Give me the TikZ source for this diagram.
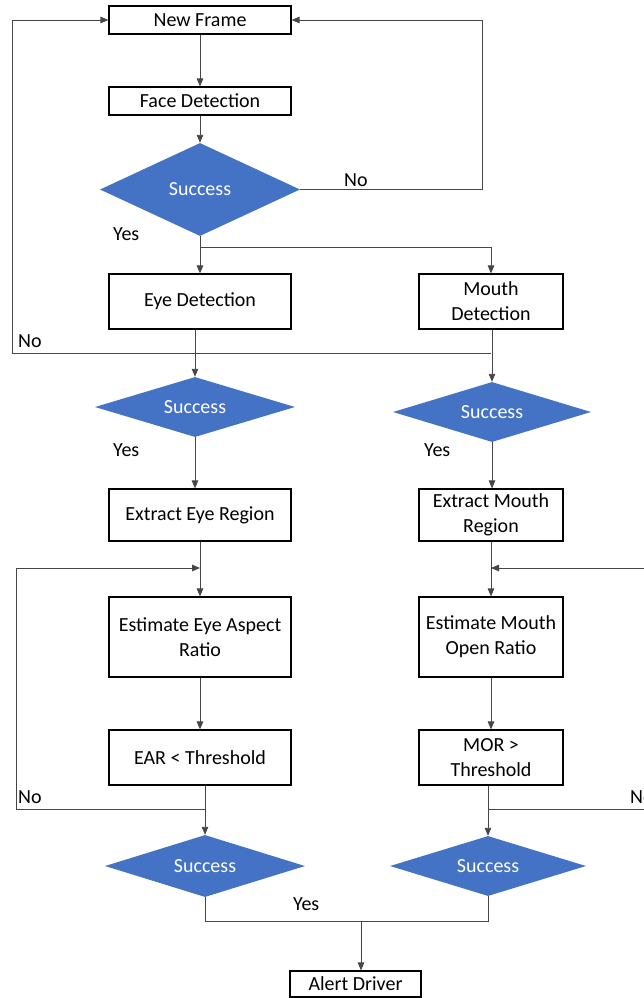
\documentclass[tikz,border=0pt]{standalone}
\usepackage{fontspec}
\setmainfont{Carlito}
\usepackage{tikz}
\usetikzlibrary{shapes.geometric}
\usetikzlibrary{arrows.meta}
\definecolor{officeblue}{RGB}{68,114,196}
\definecolor{linegray}{RGB}{70,70,70}
\tikzset {
  x=1pt, y=-1pt,
  % process boxes
  box/.style = {draw, line width=1.1pt, rectangle, inner sep=0pt, align=center,
    minimum width=182pt},
  narrow/.style = {minimum width=144pt},
  % decision diamonds
  decision/.style = {diamond, fill=officeblue, text=white, inner sep=0pt, aspect=2},
  % connectors
  flow/.style = {draw=linegray, line width=0.9pt, -{Triangle[length=8pt, width=6.5pt]}},
  plain/.style = {draw=linegray, line width=0.9pt},
  lbl/.style = {inner sep=0pt, anchor=west},
}

\begin{document}
\begin{tikzpicture}[font=\fontsize{20}{25}\selectfont]
        \useasboundingbox (0,0) rectangle (644,998);
        \clip (0,0) rectangle (644,998);

        \node[box, minimum height=28pt] (newframe) at (200,20) {New Frame};
        \node[box, minimum height=28pt] (facedet) at (200,101) {Face Detection};
        \node[decision, minimum width=200pt, minimum height=93pt] (succ1) at (200,189.5) {Success};

        \node[box, minimum height=55pt] (eyedet) at (200,301.5) {Eye Detection};
        \node[box, narrow, minimum height=55pt] (mouthdet) at (491,301.5) {Mouth\\Detection};

        \node[decision, minimum width=200pt, minimum height=60pt] (succeye) at (195,407) {Success};
        \node[decision, minimum width=198pt, minimum height=60pt] (succmouth) at (492,412) {Success};

        \node[box, minimum height=52pt] (extreye) at (200,515) {Extract Eye Region};
        \node[box, narrow, minimum height=52pt] (extrmouth) at (491,515) {Extract Mouth\\Region};

        \node[box, minimum height=80pt] (esteye) at (200,637) {Estimate Eye Aspect\\Ratio};
        \node[box, narrow, minimum height=80pt] (estmouth) at (491,637) {Estimate Mouth\\Open Ratio};

        \node[box, minimum height=55pt] (eyethr) at (200,757.5) {EAR {\textless} Threshold};
        \node[box, narrow, minimum height=55pt] (mouththr) at (491,757.5) {MOR {\textgreater}\\Threshold};

        \node[decision, minimum width=200pt, minimum height=62pt] (succ3) at (205,866) {Success};
        \node[decision, minimum width=196pt, minimum height=60pt] (succ4) at (488,866) {Success};

        \node[box, minimum width=131pt, minimum height=26pt] (alert) at (355.5,984) {Alert Driver};

        % bend points
        \coordinate (nocorner) at (482,189.5);
        \coordinate (yessplit) at (200,247);
        \coordinate (noright) at (491,353);
        \coordinate (noleft) at (12,353);
        \coordinate (eyeloopa) at (205,809);
        \coordinate (eyeloopb) at (16,809);
        \coordinate (eyeloopc) at (200,568);
        \coordinate (mouthloopa) at (488,809);
        \coordinate (mouthloopb) at (670,809);
        \coordinate (mouthloopc) at (670,568);
        \coordinate (mouthloopd) at (491,568);
        \coordinate (yesjoin) at (361,921);

        \draw[flow] (newframe) -- (facedet);
        \draw[flow] (facedet) -- (succ1);
        \draw[flow] (succ1.east) -- (nocorner) |- (newframe.east);
        \node[lbl] (no1) at (344,180) {No};

        \draw[plain] (succ1.south) -- (yessplit);
        \draw[flow] (yessplit) -- (eyedet);
        \draw[flow] (yessplit) -| (mouthdet.north);
        \node[lbl] (yes1) at (113,234) {Yes};

        \draw[flow] (eyedet.south -| succeye.north) -- (succeye.north);
        \draw[flow] (mouthdet.south -| succmouth.north) -- (succmouth.north);
        \draw[flow] (noright) -- (noleft) |- (newframe.west);
        \node[lbl] (no2) at (18,341) {No};

        \node[lbl] (yes2) at (113,450) {Yes};
        \node[lbl] (yes3) at (424,450) {Yes};
        \draw[flow] (succeye.south) -- (succeye.south |- extreye.north);
        \draw[flow] (succmouth.south) -- (succmouth.south |- extrmouth.north);

        \draw[flow] (extreye) -- (esteye);
        \draw[flow] (extrmouth) -- (estmouth);
        \draw[flow] (esteye) -- (eyethr);
        \draw[flow] (estmouth) -- (mouththr);

        \draw[flow] (eyethr.south -| succ3.north) -- (succ3.north);
        \draw[flow] (mouththr.south -| succ4.north) -- (succ4.north);

        % feedback loops
        \draw[flow] (eyeloopa) -- (eyeloopb) |- (eyeloopc);
        \node[lbl] (no3) at (18,797) {No};
        \draw[plain] (mouthloopa) -- (mouthloopb) -- (mouthloopc);
        \draw[flow] (mouthloopc) -- (mouthloopd);
        \node[lbl] (no4) at (630,797) {No};

        \draw[plain] (succ3.south) |- (yesjoin) -| (succ4.south);
        \draw[flow] (yesjoin) -- (yesjoin |- alert.north);
        \node[lbl] (yes4) at (293,904) {Yes};
\end{tikzpicture}
\end{document}
